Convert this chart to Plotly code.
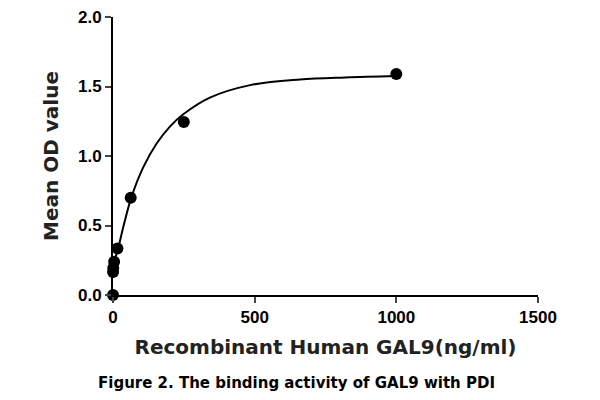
import plotly.graph_objects as go

# Measured data points
conc = [1000, 250, 62.5, 15.6, 3.9, 0.98, 0.24, 0]
od = [1.59, 1.245, 0.70, 0.335, 0.24, 0.195, 0.165, 0.0]

# Fitted curve
curve_x = [0, 5, 18.7, 40, 66, 107, 154, 200, 248, 342, 484, 660, 820, 1000]
curve_y = [0.16, 0.24, 0.34, 0.52, 0.71, 0.92, 1.09, 1.21, 1.30, 1.42, 1.51, 1.55, 1.565, 1.575]

x_ticks = [0, 500, 1000, 1500]
y_ticks = [0.0, 0.5, 1.0, 1.5, 2.0]
y_tick_labels = ["0.0", "0.5", "1.0", "1.5", "2.0"]

tick_font = "Liberation Sans, Arial, sans-serif"
title_font = "DejaVu Sans, Liberation Sans, sans-serif"

fig = go.Figure()
fig.add_trace(go.Scatter(x=curve_x, y=curve_y, mode="lines",
                         line=dict(color="black", width=2, shape="spline", smoothing=1.0),
                         hoverinfo="skip", showlegend=False, cliponaxis=False))
fig.add_trace(go.Scatter(x=conc, y=od, mode="markers",
                         marker=dict(color="black", size=12),
                         showlegend=False, cliponaxis=False))

fig.update_layout(
    width=592, height=392,
    margin=dict(l=105, r=62, t=9, b=105),
    plot_bgcolor="white", paper_bgcolor="white",
    font=dict(family=tick_font, color="black"),
    xaxis=dict(range=[0, 1500], tickvals=x_ticks, ticks="outside", ticklen=6, tickwidth=2,
               showline=True, linewidth=2, linecolor="black", showgrid=False, zeroline=False,
               automargin=False, ticklabeloverflow="allow",
               tickfont=dict(size=17, family=tick_font, weight="bold"),
               title=dict(text="<b>Recombinant Human GAL9(ng/ml)</b>",
                          font=dict(size=20, family=title_font, color="#222"), standoff=14)),
    yaxis=dict(range=[0, 2], tickvals=y_ticks, ticktext=y_tick_labels, ticks="outside", ticklen=6, tickwidth=2,
               showline=True, linewidth=2, linecolor="black", showgrid=False, zeroline=False,
               automargin=False, ticklabeloverflow="allow",
               tickfont=dict(size=17, family=tick_font, weight="bold"),
               title=dict(text="<b>Mean OD value</b>",
                          font=dict(size=20, family=title_font, color="#222"), standoff=14)),
    annotations=[dict(text="<b>Figure 2. The binding activity of GAL9 with PDI</b>",
                      xref="paper", yref="paper", x=(296 - 113) / 425, y=0, yshift=-88,
                      showarrow=False, xanchor="center", yanchor="middle",
                      font=dict(size=15, family=title_font, color="black"))],
)

fig.write_html("out.html")
